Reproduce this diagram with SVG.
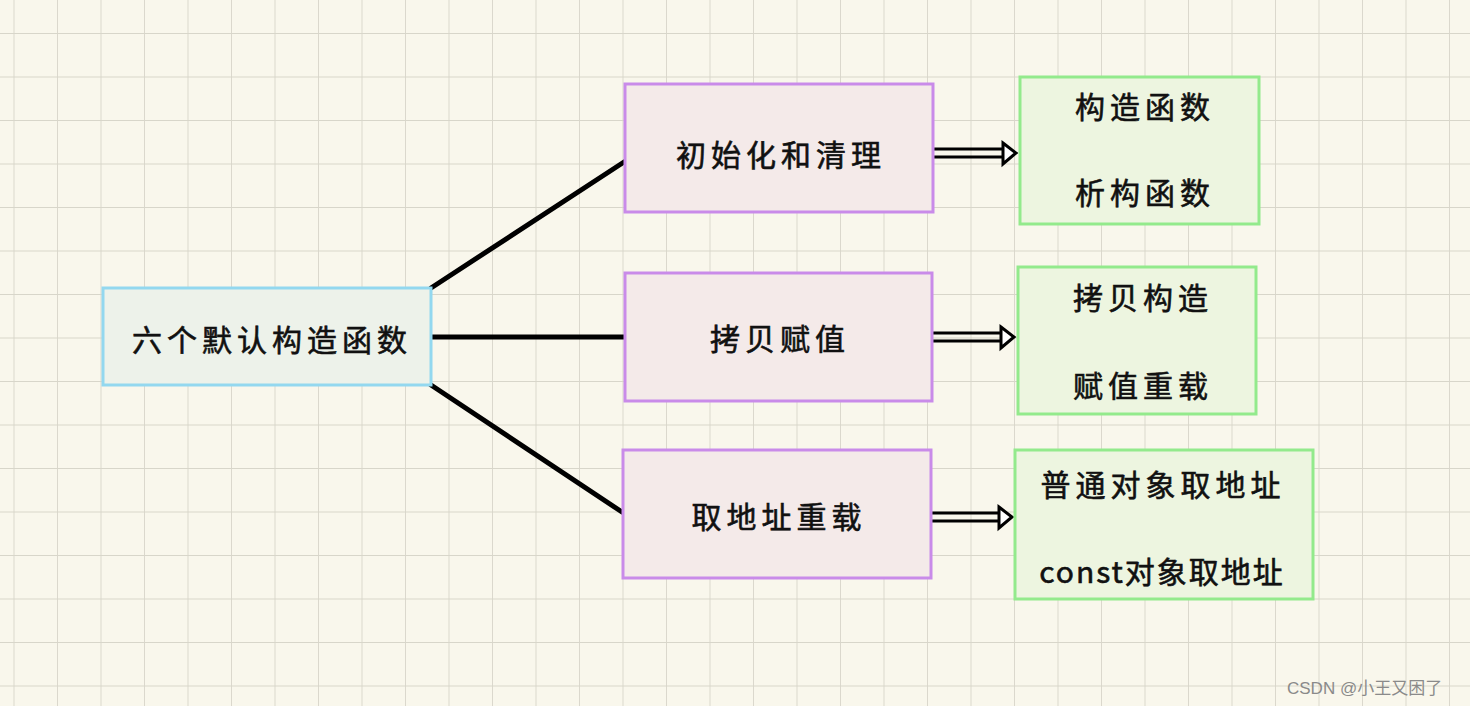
<svg xmlns="http://www.w3.org/2000/svg" width="1470" height="706" viewBox="0 0 1470 706">
<defs>
<pattern id="grid" x="13.5" y="33" width="43.5" height="43.5" patternUnits="userSpaceOnUse">
<path d="M0 0 V43.5 M0 0 H43.5" fill="none" stroke="#d8d6ca" stroke-width="1.8"/>
</pattern>
<style>
.main{fill:#edf2ea;stroke:#93d8ef;stroke-width:3}
.mid{fill:#f4eae9;stroke:#c98be9;stroke-width:3}
.leaf{fill:#edf5e0;stroke:#93ea8c;stroke-width:3}
.t{font-family:"Noto Sans CJK SC","Noto Sans",sans-serif;font-size:30px;font-weight:400;fill:#111;text-anchor:middle;letter-spacing:5px;stroke:#111;stroke-width:0.6px}
.tc{letter-spacing:2px}
.conn{stroke:#000;stroke-width:5;stroke-linecap:round;fill:none}
.dbl{stroke:#000;stroke-width:3;fill:none}
.head{fill:#fff;stroke:#000;stroke-width:3;stroke-linejoin:miter}
.wm{font-family:"Liberation Sans","Noto Sans CJK SC",sans-serif;font-size:17px;fill:#8a8a8a}
</style>
</defs>
<rect width="1470" height="706" fill="#f9f7ec"/>
<rect width="1470" height="706" fill="url(#grid)"/>

<g id="connectors">
<line class="conn" x1="431" y1="288" x2="624" y2="162"/>
<line class="conn" x1="431" y1="337" x2="624" y2="337"/>
<line class="conn" x1="431" y1="385" x2="622" y2="512"/>
<g id="arrow1">
<line class="dbl" x1="933" y1="149" x2="1004" y2="149"/>
<line class="dbl" x1="933" y1="157" x2="1004" y2="157"/>
<path class="head" d="M1003 143 L1016 153 L1003 164 Z"/>
</g>
<g id="arrow2">
<line class="dbl" x1="932" y1="333" x2="1002" y2="333"/>
<line class="dbl" x1="932" y1="341" x2="1002" y2="341"/>
<path class="head" d="M1001 327 L1014 337 L1001 348 Z"/>
</g>
<g id="arrow3">
<line class="dbl" x1="931" y1="513" x2="1000" y2="513"/>
<line class="dbl" x1="931" y1="521" x2="1000" y2="521"/>
<path class="head" d="M999 507 L1012 517 L999 528 Z"/>
</g>
</g>

<g id="node-main">
<rect class="main" x="103" y="288" width="328" height="97"/>
<text class="t" x="272" y="351">六个默认构造函数</text>
</g>
<g id="node-init">
<rect class="mid" x="625" y="84" width="308" height="128"/>
<text class="t" x="781" y="166">初始化和清理</text>
</g>
<g id="node-copy">
<rect class="mid" x="625" y="273" width="307" height="128"/>
<text class="t" x="780" y="350">拷贝赋值</text>
</g>
<g id="node-addr">
<rect class="mid" x="623" y="450" width="308" height="128"/>
<text class="t" x="779" y="528">取地址重载</text>
</g>
<g id="leaf-1">
<rect class="leaf" x="1020" y="77" width="239" height="147"/>
<text class="t" x="1145" y="118">构造函数</text>
<text class="t" x="1145" y="204">析构函数</text>
</g>
<g id="leaf-2">
<rect class="leaf" x="1018" y="267" width="238" height="147"/>
<text class="t" x="1143" y="309">拷贝构造</text>
<text class="t" x="1143" y="397">赋值重载</text>
</g>
<g id="leaf-3">
<rect class="leaf" x="1015" y="450" width="298" height="149"/>
<text class="t" x="1163" y="496">普通对象取地址</text>
<text class="t tc" x="1162" y="583">const对象取地址</text>
</g>

<text class="wm" x="1287" y="694">CSDN @小王又困了</text>
</svg>
